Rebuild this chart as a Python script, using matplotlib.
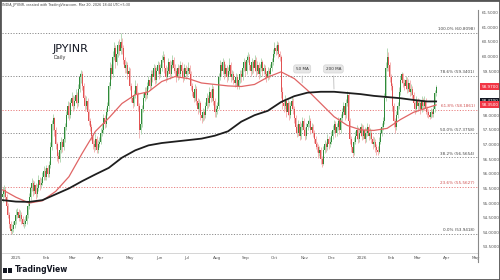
import numpy as np
import pandas as pd
import matplotlib
matplotlib.use("Agg")
import matplotlib.pyplot as plt
from matplotlib.patches import Rectangle

# daily closes, first bar 2024-12-18
close = [
    55.30, 55.45, 55.20, 54.90, 54.60, 54.30, 54.05, 54.10, 54.25, 54.40,
    54.60, 54.70, 54.50, 54.60, 54.45, 54.30, 54.30, 54.40, 54.60, 54.90,
    55.20, 55.50, 55.70, 55.40, 55.60, 55.30, 55.50, 55.80, 55.60, 55.70,
    55.90, 56.10, 55.90, 56.20, 56.00, 56.30, 56.90, 57.70, 57.90, 57.50,
    57.00, 56.60, 56.50, 56.80, 57.10, 56.90, 57.20, 57.60, 58.00, 58.30,
    58.00, 58.40, 58.60, 58.30, 58.50, 58.70, 58.40, 58.90, 59.30, 59.40,
    59.00, 58.60, 58.30, 58.50, 58.10, 57.80, 57.60, 57.30, 57.00, 56.90,
    57.20, 56.80, 57.00, 57.10, 57.40, 57.50, 57.90, 57.70, 58.10, 58.30,
    59.00, 59.60, 59.40, 60.00, 60.30, 59.80, 60.10, 60.40, 60.20, 60.50,
    60.30, 59.90, 59.60, 59.70, 59.40, 59.50, 59.00, 58.60, 58.40, 58.70,
    59.00, 58.70, 58.30, 57.50, 57.70, 58.20, 58.60, 58.80, 58.70, 59.00,
    59.20, 59.00, 59.40, 59.30, 59.60, 59.20, 59.50, 59.70, 59.40, 59.60,
    59.90, 60.00, 59.60, 59.30, 59.50, 59.80, 59.40, 59.70, 59.90, 59.60,
    59.50, 59.30, 59.60, 59.40, 59.70, 59.50, 59.30, 59.60, 59.40, 59.50,
    59.60, 59.40, 59.00, 58.80, 58.60, 58.90, 58.50, 58.20, 58.40, 58.00,
    57.90, 58.10, 58.00, 58.30, 58.60, 58.40, 58.80, 58.60, 58.90, 58.50,
    58.10, 58.20, 58.30, 59.30, 59.70, 59.50, 59.80, 59.40, 59.60, 59.30,
    59.50, 59.70, 59.30, 59.40, 59.20, 59.10, 59.30, 59.00, 59.20, 59.40,
    59.30, 59.60, 59.80, 59.50, 59.90, 60.00, 59.70, 59.50, 59.80, 59.60,
    59.90, 59.50, 59.70, 59.40, 59.60, 59.80, 59.50, 59.60, 59.40, 59.30,
    59.50, 59.40, 59.60, 59.80, 60.10, 60.30, 60.20, 60.40, 60.10, 60.00,
    58.80, 58.40, 58.30, 58.50, 58.10, 58.40, 58.00, 58.30, 58.50, 58.20,
    57.90, 57.60, 57.40, 57.70, 57.30, 57.60, 57.80, 57.50, 57.30, 57.60,
    57.70, 57.80, 57.50, 57.60, 57.40, 57.20, 57.00, 56.90, 56.70, 56.80,
    56.50, 56.35, 56.80, 57.00, 56.90, 57.20, 57.00, 57.10, 57.30, 57.50,
    57.70, 57.40, 57.60, 57.80, 57.50, 57.90, 58.10, 58.30, 58.00, 58.40,
    58.70, 57.80, 57.20, 56.90, 56.70, 57.10, 57.30, 57.50, 57.20, 57.40,
    57.60, 57.30, 57.50, 57.20, 57.40, 57.60, 57.30, 57.40, 57.20, 57.00,
    57.10, 56.90, 56.80, 56.75, 57.10, 57.40, 57.60, 57.80, 58.60, 59.60,
    60.00, 59.70, 59.30, 59.00, 58.30, 57.80, 57.60, 58.00, 58.30, 58.80,
    59.20, 59.40, 59.10, 59.00, 59.20, 58.90, 59.10, 58.80, 58.90, 58.70,
    58.40, 58.20, 58.50, 58.30, 58.40, 58.20, 58.50, 58.30, 58.50, 58.20,
    58.10, 58.00, 57.95, 58.10, 58.05, 58.20, 58.75, 58.97,
]
high = [
    55.55, 55.60, 55.55, 55.30, 55.00, 54.70, 54.40, 54.30, 54.40, 54.55,
    54.80, 54.83, 54.80, 54.75, 54.70, 54.55, 54.45, 54.55, 54.75, 55.05,
    55.35, 55.65, 55.85, 55.80, 55.75, 55.70, 55.65, 55.95, 55.90, 55.85,
    56.05, 56.25, 56.20, 56.30, 56.30, 56.45, 57.10, 57.85, 58.05, 57.95,
    57.60, 57.10, 56.75, 56.95, 57.25, 57.20, 57.35, 57.75, 58.15, 58.50,
    58.45, 58.55, 58.80, 58.70, 58.65, 58.90, 58.80, 59.05, 59.45, 59.55,
    59.50, 59.10, 58.70, 58.65, 58.60, 58.20, 57.90, 57.70, 57.40, 57.15,
    57.35, 57.30, 57.15, 57.25, 57.55, 57.70, 58.05, 58.00, 58.25, 58.45,
    59.15, 59.80, 59.75, 60.20, 60.50, 60.40, 60.30, 60.55, 60.60, 60.81,
    60.65, 60.40, 60.00, 59.85, 59.80, 59.65, 59.60, 59.10, 58.70, 58.85,
    59.20, 59.10, 58.80, 58.40, 57.90, 58.35, 58.75, 58.95, 58.95, 59.15,
    59.35, 59.30, 59.55, 59.55, 59.75, 59.70, 59.65, 59.85, 59.80, 59.75,
    60.05, 60.20, 60.10, 59.70, 59.65, 59.95, 59.90, 59.85, 60.05, 60.00,
    59.75, 59.60, 59.75, 59.70, 59.85, 59.80, 59.60, 59.75, 59.70, 59.65,
    59.80, 59.70, 59.50, 59.10, 58.90, 59.05, 59.00, 58.60, 58.55, 58.50,
    58.10, 58.25, 58.20, 58.45, 58.75, 58.70, 58.95, 58.90, 59.05, 59.00,
    58.60, 58.35, 58.45, 59.45, 59.90, 59.80, 59.95, 59.90, 59.75, 59.70,
    59.65, 59.95, 59.80, 59.55, 59.50, 59.30, 59.45, 59.40, 59.35, 59.55,
    59.55, 59.75, 59.95, 59.90, 60.05, 60.15, 60.10, 59.80, 59.95, 59.90,
    60.05, 60.00, 59.85, 59.80, 59.75, 59.95, 59.90, 59.75, 59.70, 59.50,
    59.65, 59.60, 59.75, 59.95, 60.25, 60.50, 60.40, 60.55, 60.50, 60.20,
    60.05, 58.95, 58.55, 58.70, 58.60, 58.55, 58.50, 58.45, 58.65, 58.60,
    58.30, 58.00, 57.70, 57.85, 57.80, 57.75, 57.95, 57.90, 57.60, 57.75,
    57.85, 58.00, 57.90, 57.75, 57.70, 57.50, 57.30, 57.10, 57.00, 56.95,
    56.90, 56.60, 56.95, 57.15, 57.10, 57.35, 57.30, 57.25, 57.45, 57.65,
    57.85, 57.80, 57.75, 57.95, 57.90, 58.05, 58.25, 58.45, 58.40, 58.55,
    58.82, 58.75, 57.90, 57.30, 57.00, 57.25, 57.45, 57.65, 57.60, 57.55,
    57.75, 57.70, 57.65, 57.60, 57.55, 57.75, 57.70, 57.55, 57.50, 57.30,
    57.25, 57.20, 57.00, 56.95, 57.25, 57.55, 57.75, 57.95, 58.75, 59.80,
    60.30, 60.15, 59.80, 59.40, 59.10, 58.40, 57.90, 58.15, 58.45, 58.95,
    59.35, 59.48, 59.45, 59.25, 59.35, 59.30, 59.25, 59.20, 59.05, 59.00,
    58.80, 58.50, 58.65, 58.60, 58.55, 58.50, 58.65, 58.60, 58.65, 58.60,
    58.30, 58.20, 58.10, 58.25, 58.20, 58.35, 58.85, 59.03,
]
low = [
    55.05, 55.20, 55.10, 54.80, 54.50, 54.15, 53.94, 53.95, 54.00, 54.15,
    54.30, 54.50, 54.40, 54.40, 54.30, 54.20, 54.15, 54.20, 54.30, 54.50,
    54.80, 55.10, 55.40, 55.25, 55.30, 55.15, 55.20, 55.40, 55.45, 55.50,
    55.60, 55.80, 55.80, 55.80, 55.90, 55.90, 56.20, 56.80, 57.50, 57.30,
    56.85, 56.45, 56.38, 56.40, 56.70, 56.75, 56.80, 57.10, 57.50, 57.90,
    57.85, 57.90, 58.30, 58.15, 58.20, 58.40, 58.25, 58.30, 58.80, 59.10,
    58.85, 58.45, 58.15, 58.20, 57.95, 57.65, 57.45, 57.15, 56.85, 56.75,
    56.80, 56.70, 56.70, 56.90, 57.00, 57.30, 57.40, 57.55, 57.60, 58.00,
    58.20, 58.90, 59.25, 59.30, 59.90, 59.60, 59.70, 60.00, 60.05, 60.10,
    60.10, 59.75, 59.45, 59.45, 59.25, 59.30, 58.85, 58.45, 58.25, 58.30,
    58.60, 58.55, 58.15, 57.23, 57.35, 57.60, 58.10, 58.50, 58.55, 58.60,
    58.90, 58.85, 58.90, 59.15, 59.20, 59.05, 59.10, 59.40, 59.25, 59.30,
    59.50, 59.80, 59.45, 59.15, 59.20, 59.40, 59.25, 59.30, 59.60, 59.45,
    59.35, 59.15, 59.20, 59.25, 59.30, 59.35, 59.15, 59.20, 59.25, 59.30,
    59.40, 59.25, 58.85, 58.65, 58.45, 58.50, 58.35, 58.05, 58.10, 57.85,
    57.74, 57.80, 57.85, 57.90, 58.20, 58.25, 58.30, 58.45, 58.50, 58.35,
    57.95, 57.94, 58.05, 58.20, 59.20, 59.35, 59.40, 59.25, 59.30, 59.15,
    59.20, 59.40, 59.15, 59.20, 59.05, 58.95, 59.00, 58.90, 58.90, 59.10,
    59.15, 59.20, 59.50, 59.35, 59.40, 59.80, 59.55, 59.35, 59.40, 59.45,
    59.50, 59.35, 59.40, 59.25, 59.30, 59.50, 59.35, 59.40, 59.25, 59.15,
    59.20, 59.25, 59.30, 59.50, 59.70, 60.00, 60.05, 60.10, 59.95, 59.85,
    58.60, 58.20, 58.10, 58.20, 57.95, 58.00, 57.85, 57.90, 58.20, 58.05,
    57.75, 57.45, 57.25, 57.30, 57.15, 57.20, 57.50, 57.35, 57.15, 57.20,
    57.50, 57.60, 57.35, 57.40, 57.25, 57.05, 56.85, 56.75, 56.55, 56.60,
    56.35, 56.24, 56.30, 56.70, 56.75, 56.80, 56.85, 56.90, 57.00, 57.20,
    57.40, 57.25, 57.30, 57.50, 57.35, 57.40, 57.80, 58.00, 57.85, 57.90,
    58.30, 57.65, 57.00, 56.75, 56.58, 56.65, 57.00, 57.20, 57.05, 57.10,
    57.30, 57.15, 57.20, 57.05, 57.10, 57.30, 57.15, 57.20, 57.05, 56.85,
    56.90, 56.75, 56.65, 56.64, 56.70, 57.00, 57.30, 57.50, 57.70, 58.50,
    59.50, 59.50, 59.15, 58.85, 58.15, 57.60, 57.40, 57.50, 57.90, 58.20,
    58.70, 59.10, 58.95, 58.85, 58.90, 58.75, 58.80, 58.65, 58.70, 58.55,
    58.25, 58.05, 58.10, 58.15, 58.20, 58.05, 58.10, 58.15, 58.20, 58.05,
    57.95, 57.90, 57.88, 57.90, 57.95, 57.95, 58.10, 58.65,
]
first_open = 55.20

# moving averages, one value every 10 bars (+ last bar)
ma_bars = [0, 10, 20, 30, 40, 50, 60, 70, 80, 90, 100, 110, 120, 130, 140, 150,
           160, 170, 180, 190, 200, 210, 220, 230, 240, 250, 260, 270, 280, 290,
           300, 310, 320, 327]
ma50 = [55.45, 55.20, 55.00, 55.08, 55.40, 55.90, 56.70, 57.45, 57.90, 58.40,
        58.70, 58.80, 59.15, 59.32, 59.25, 59.10, 59.05, 59.00, 58.98, 59.05,
        59.30, 59.48, 59.25, 58.85, 58.40, 57.95, 57.65, 57.50, 57.48, 57.55,
        57.85, 58.10, 58.25, 58.35]
ma200 = [55.10, 55.05, 55.04, 55.10, 55.30, 55.50, 55.75, 55.98, 56.20, 56.55,
         56.80, 56.97, 57.05, 57.10, 57.15, 57.20, 57.30, 57.45, 57.78, 58.00,
         58.15, 58.45, 58.65, 58.77, 58.80, 58.80, 58.76, 58.72, 58.66, 58.62,
         58.58, 58.52, 58.47, 58.47]

fib_names = ["100.0%", "78.6%", "61.8%", "50.0%", "38.2%", "23.6%", "0.0%"]
fib_prices = [60.8098, 59.3401, 58.1861, 57.3758, 56.5654, 55.5627, 53.9418]
fib_red = [False, False, True, False, False, True, False]

month_names = ["Jan", "Feb", "Mar", "Apr", "May", "Jun", "Jul", "Aug", "Sep",
               "Oct", "Nov", "Dec"]

UP, DOWN = "#2f8a3a", "#e25252"
UP_W, DOWN_W = "#a9d3ab", "#f3aaaa"

close = np.array(close)
high = np.array(high)
low = np.array(low)
opn = np.concatenate([[first_open], close[:-1]])
n = len(close)
bars = np.arange(n)
up = close >= opn

dates = pd.bdate_range("2024-12-18", "2026-05-29")

fig = plt.figure(figsize=(5, 2.8), dpi=100)
fig.patch.set_facecolor("white")
ax = fig.add_axes([2 / 500, 27 / 280, 476 / 500, 243 / 280])

px = 1.3256  # pixels per bar
ax.set_xlim(-0.5, -0.5 + 476 / px)
ax.set_ylim(53.295, 61.592)

# fib levels
for name, p, red in zip(fib_names, fib_prices, fib_red):
    col = "#e88080" if red else "#8c8c8c"
    ax.axhline(p, color=col, lw=0.7, ls=(0, (1.2, 1.6)), zorder=1)
    ax.annotate(f"{name} ({p:.4f})", xy=(0.993, p), xycoords=("axes fraction", "data"),
                xytext=(0, 1.2), textcoords="offset points", ha="right", va="bottom",
                fontsize=3.0, color="#d05050" if red else "#444")

# candles
wcol = np.where(up, UP_W, DOWN_W)
ax.vlines(bars, low, high, colors=wcol, lw=0.6, zorder=2)
body = np.maximum(np.abs(close - opn), 0.03)
ax.bar(bars, body, bottom=np.minimum(opn, close), width=0.75,
       color=np.where(up, UP, DOWN), linewidth=0, zorder=3)

# moving averages
ax.plot(ma_bars, ma50, color="#e06565", lw=0.9, zorder=4)
ax.plot(ma_bars, ma200, color="#1e1e1e", lw=1.3, zorder=4)

# MA callouts
for txt, bx, target, series in [("50 MA", 226, 226, ma50), ("200 MA", 249.5, 250, ma200)]:
    ty = np.interp(target, ma_bars, series)
    ax.annotate(txt, xy=(target, ty), xytext=(bx, 59.58), ha="center", va="center",
                fontsize=3.0, color="#333",
                bbox=dict(boxstyle="round,pad=0.5", fc="#e6e6e6", ec="#d0d0d0", lw=0.4),
                arrowprops=dict(arrowstyle="-", color="#bdbdbd", lw=0.6), zorder=6)

# axes styling
for s in ["top", "left"]:
    ax.spines[s].set_visible(False)
ax.spines["right"].set_color("#8a8a8a")
ax.spines["bottom"].set_color("#cfcfcf")
ax.spines["right"].set_linewidth(0.8)
ax.spines["bottom"].set_linewidth(0.6)

ax.yaxis.tick_right()
yt = np.arange(53.5, 61.51, 0.5)
ax.set_yticks(yt)
ax.set_yticklabels([f"{v:.4f}" for v in yt])
ax.tick_params(axis="y", length=0, pad=3, labelsize=3.0, labelcolor="#555")

xt, xl = [], []
prev = None
for i, d in enumerate(dates):
    if prev is None or d.month != prev.month:
        if prev is not None or d.day <= 3:
            xt.append(i)
            xl.append(str(d.year) if d.month == 1 else month_names[d.month - 1])
    prev = d
ax.set_xticks(xt)
ax.set_xticklabels(xl)
ax.tick_params(axis="x", length=0, pad=2, labelsize=3.0, labelcolor="#555")

# right-side price boxes
boxes = [(close[-1], "#f23645"), (ma200[-1], "#131722"), (ma50[-1], "#f23645")]
for val, c in boxes:
    ax.text(1.008, val, f"{val:.4f}", transform=ax.get_yaxis_transform(),
            ha="left", va="center", fontsize=3.0, color="white", clip_on=False,
            bbox=dict(boxstyle="square,pad=0.35", fc=c, ec="none"), zorder=7)

# titles and branding
fig.text(53 / 500, 1 - 49 / 280, "JPYINR", fontsize=8, color="#131722", va="center")
fig.text(54 / 500, 1 - 58 / 280, "Daily", fontsize=3.5, color="#333", va="center")
fig.text(2 / 500, 1 - 5 / 280,
         "INDIA_JPYINR, created with TradingView.com, Mar 20, 2026 18:44 UTC+5:30",
         fontsize=2.4, color="#444", va="center")
fig.text(15 / 500, 1 - 270 / 280, "TradingView", fontsize=5.5, color="#131722",
         va="center", fontweight="bold")
fig.patches.append(Rectangle((3 / 500, 1 - 272.5 / 280), 4 / 500, 5 / 280,
                             transform=fig.transFigure, fc="#131722", ec="none"))
fig.patches.append(Rectangle((8 / 500, 1 - 272.5 / 280), 4 / 500, 5 / 280,
                             transform=fig.transFigure, fc="#131722", ec="none"))

# vertical separator continuing under the date row
fig.add_artist(plt.Line2D([478 / 500, 478 / 500], [1 - 262 / 280, 1 - 253 / 280],
                          transform=fig.transFigure, color="#8a8a8a", lw=0.8))
# outer frame
fig.patches.append(Rectangle((0, 0), 1, 1, transform=fig.transFigure, fill=False,
                             ec="#555555", lw=2.0))

fig.savefig("out.png", dpi=100, facecolor="white")
